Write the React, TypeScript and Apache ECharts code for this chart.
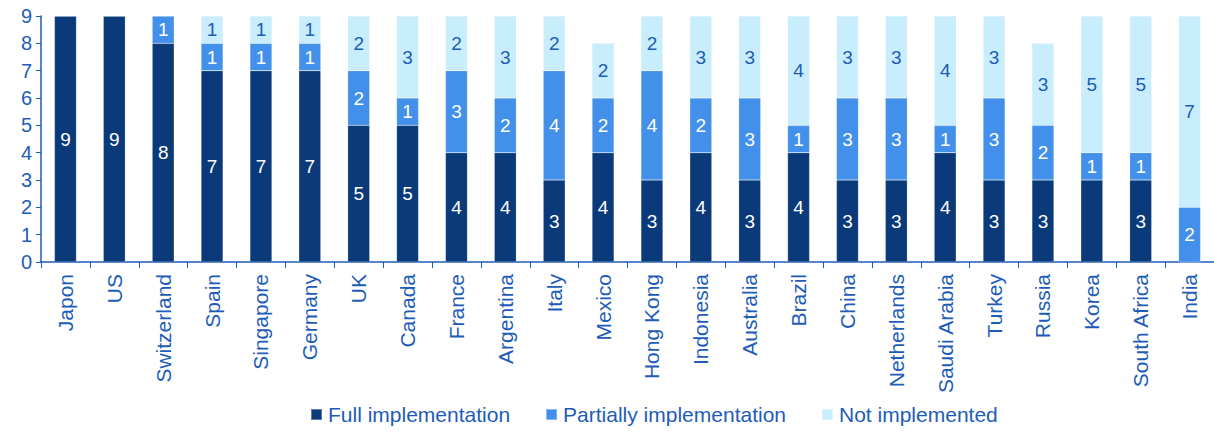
import React, { useEffect, useRef } from "react";
import * as echarts from "echarts";

const categories = ["Japon", "US", "Switzerland", "Spain", "Singapore", "Germany", "UK", "Canada", "France", "Argentina", "Italy", "Mexico", "Hong Kong", "Indonesia", "Australia", "Brazil", "China", "Netherlands", "Saudi Arabia", "Turkey", "Russia", "Korea", "South Africa", "India"];
const fullImpl = [9, 9, 8, 7, 7, 7, 5, 5, 4, 4, 3, 4, 3, 4, 3, 4, 3, 3, 4, 3, 3, 3, 3, 0];
const partialImpl = [0, 0, 1, 1, 1, 1, 2, 1, 3, 2, 4, 2, 4, 2, 3, 1, 3, 3, 1, 3, 2, 1, 1, 2];
const notImpl = [0, 0, 0, 1, 1, 1, 2, 3, 2, 3, 2, 2, 2, 3, 3, 4, 3, 3, 4, 3, 3, 5, 5, 7];
const yTicks = [0, 1, 2, 3, 4, 5, 6, 7, 8, 9];
const hiddenLabels = ["Korea"];

const C_DARK = "#0a3a7a";
const C_MID = "#4290ea";
const C_LIGHT = "#c8edfc";
const C_TEXT = "#1e5cb8";
const FONT = "'Liberation Sans', Arial, sans-serif";

export default function App() {
  const ref = useRef<HTMLDivElement>(null);
  useEffect(() => {
    document.body.style.margin = "0";
    const chart = echarts.init(ref.current!, null, { renderer: "svg" });
    const mk = (arr: number[], name: string, color: string, labelColor: string, hideSome: boolean) => ({
      name,
      type: "bar",
      stack: "total",
      barWidth: 22,
      itemStyle: { color, borderColor: "rgba(255,255,255,0.35)", borderWidth: 0.5 },
      label: {
        show: true,
        position: "inside",
        color: labelColor,
        fontSize: 19,
        fontFamily: FONT,
      },
      data: arr.map((v, i) =>
        v === 0
          ? { value: v, label: { show: false } }
          : hideSome && hiddenLabels.includes(categories[i])
          ? { value: v, label: { show: false } }
          : v
      ),
    });
    chart.setOption({
      animation: false,
      textStyle: { fontFamily: FONT },
      grid: { left: 41, right: 0, top: 16, bottom: 170, containLabel: false },
      legend: {
        bottom: 2,
        left: 305,
        itemWidth: 11,
        itemHeight: 11,
        itemGap: 35,
        icon: "rect",
        textStyle: { color: C_TEXT, fontSize: 21, fontFamily: FONT, padding: [0, 0, 0, 1] },
        data: ["Full implementation", "Partially implementation", "Not implemented"],
      },
      xAxis: {
        type: "category",
        data: categories,
        axisLine: { lineStyle: { color: C_TEXT, width: 1.5 } },
        axisTick: { show: true, alignWithLabel: false, length: 6, lineStyle: { color: C_TEXT } },
        axisLabel: { rotate: 90, color: C_TEXT, fontSize: 21, fontFamily: FONT, margin: 12, interval: 0 },
      },
      yAxis: {
        type: "value",
        min: 0,
        max: yTicks[yTicks.length - 1],
        interval: 1,
        splitLine: { show: false },
        axisLine: { show: true, lineStyle: { color: C_TEXT, width: 1.5 } },
        axisTick: { show: true, length: 5, lineStyle: { color: C_TEXT } },
        axisLabel: { color: C_TEXT, fontSize: 20, fontFamily: FONT, margin: 9 },
      },
      series: [
        mk(fullImpl, "Full implementation", C_DARK, "#ffffff", true),
        mk(partialImpl, "Partially implementation", C_MID, "#ffffff", false),
        mk(notImpl, "Not implemented", C_LIGHT, C_TEXT, false),
      ],
    });
    return () => chart.dispose();
  }, []);
  return <div ref={ref} style={{ width: 1214, height: 432 }} />;
}
